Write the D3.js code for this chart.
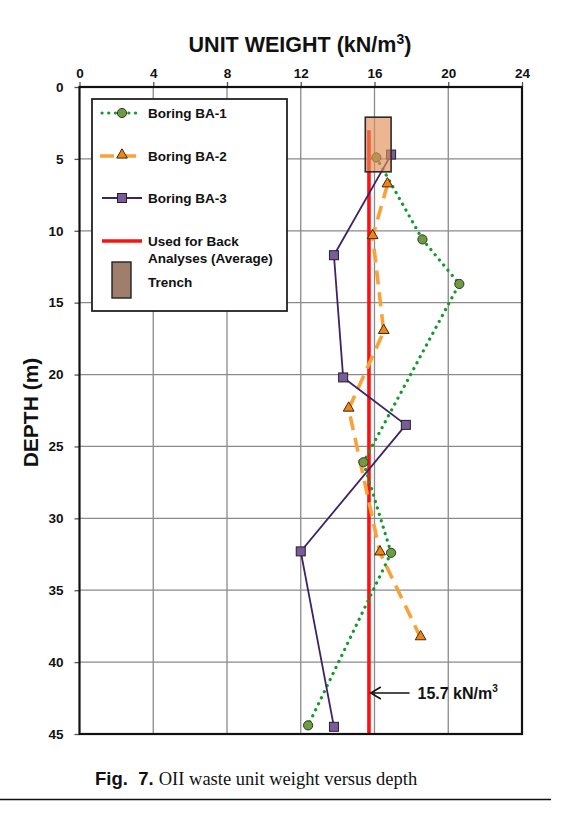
<!DOCTYPE html>
<html>
<head>
<meta charset="utf-8">
<script src="https://cdn.jsdelivr.net/npm/d3@7"></script>
<style>
  html, body { margin: 0; padding: 0; background: #fff; }
  svg { display: block; }
</style>
</head>
<body>
<div id="chart"></div>
<script>
// Values
const xTicks = [0, 4, 8, 12, 16, 20, 24];
const yTicks = [0, 5, 10, 15, 20, 25, 30, 35, 40, 45];

const ba1Weight = [16.1, 18.6, 20.6, 15.4, 16.9, 12.4];
const ba1Depth  = [4.9, 10.6, 13.7, 26.1, 32.4, 44.4];

const ba2Weight = [16.7, 15.9, 16.5, 14.6, 16.3, 18.5];
const ba2Depth  = [6.8, 10.4, 17.0, 22.4, 32.4, 38.3];

const ba3Weight = [16.9, 13.8, 14.3, 17.7, 12.0, 13.8];
const ba3Depth  = [4.7, 11.7, 20.2, 23.5, 32.3, 44.5];

const averageWeight = [15.7, 15.7];
const averageDepth  = [3.0, 45];

const trenchWeight = [15.5, 16.9];
const trenchDepth  = [2.1, 5.9];

const width = 567, height = 817;
const x = d3.scaleLinear().domain([0, 24]).range([79.5, 522]);
const y = d3.scaleLinear().domain([0, 45]).range([87, 734]);

const svg = d3.select("#chart").append("svg")
    .attr("width", width)
    .attr("height", height)
    .attr("font-family", "Liberation Sans, Arial, sans-serif");

// grid
svg.append("g")
  .selectAll("line")
  .data(xTicks.slice(1, -1))
  .join("line")
    .attr("x1", d => x(d)).attr("x2", d => x(d))
    .attr("y1", y(0)).attr("y2", y(45))
    .attr("stroke", "#8a8a8a").attr("stroke-width", 1.3);

svg.append("g")
  .selectAll("line")
  .data(yTicks.slice(1, -1))
  .join("line")
    .attr("x1", x(0)).attr("x2", x(24))
    .attr("y1", d => y(d)).attr("y2", d => y(d))
    .attr("stroke", "#8a8a8a").attr("stroke-width", 1.3);

// axes (top and left)
const xAxis = d3.axisTop(x).tickValues(xTicks).tickSize(5).tickPadding(4);
const yAxis = d3.axisLeft(y).tickValues(yTicks).tickSize(5).tickPadding(11);

svg.append("g")
    .attr("transform", `translate(0,${y(0)})`)
    .call(xAxis)
    .call(g => g.select(".domain").remove())
    .call(g => g.selectAll("line").attr("stroke", "#555").attr("stroke-width", 1.3))
    .call(g => g.selectAll("text").attr("font-size", 13.5).attr("font-weight", "bold").attr("fill", "#111"));

svg.append("g")
    .attr("transform", `translate(${x(0)},0)`)
    .call(yAxis)
    .call(g => g.select(".domain").remove())
    .call(g => g.selectAll("line").attr("stroke", "#555").attr("stroke-width", 1.3))
    .call(g => g.selectAll("text").attr("font-size", 13.5).attr("font-weight", "bold").attr("fill", "#111"));

// average line
svg.append("line")
    .attr("x1", x(averageWeight[0])).attr("x2", x(averageWeight[1]))
    .attr("y1", y(averageDepth[0])).attr("y2", y(averageDepth[1]))
    .attr("stroke", "#ff1010").attr("stroke-width", 3.6);

const line = d3.line().x(d => x(d[0])).y(d => y(d[1]));

const ba1 = d3.zip(ba1Weight, ba1Depth);
const ba2 = d3.zip(ba2Weight, ba2Depth);
const ba3 = d3.zip(ba3Weight, ba3Depth);

// series lines
svg.append("path").datum(ba2)
    .attr("d", line).attr("fill", "none")
    .attr("stroke", "#f9a23a").attr("stroke-width", 3.6)
    .attr("stroke-dasharray", "14 8");

svg.append("path").datum(ba1)
    .attr("d", line).attr("fill", "none")
    .attr("stroke", "#139a2c").attr("stroke-width", 3.2)
    .attr("stroke-linecap", "round")
    .attr("stroke-dasharray", "0.1 6.6");

svg.append("path").datum(ba3)
    .attr("d", line).attr("fill", "none")
    .attr("stroke", "#3e2366").attr("stroke-width", 1.8);

const triangle = d3.symbol(d3.symbolTriangle, 50);
const square = 9;

// markers
svg.append("g").selectAll("path").data(ba2).join("path")
    .attr("d", triangle)
    .attr("transform", d => `translate(${x(d[0])},${y(d[1]) - 1})`)
    .attr("fill", "#f2840f").attr("stroke", "#3a2a1a").attr("stroke-width", 1);

svg.append("g").selectAll("circle").data(ba1).join("circle")
    .attr("cx", d => x(d[0])).attr("cy", d => y(d[1]))
    .attr("r", 4.6)
    .attr("fill", "#6f9c3e").attr("stroke", "#333").attr("stroke-width", 1);

svg.append("g").selectAll("rect").data(ba3).join("rect")
    .attr("x", d => x(d[0]) - square / 2).attr("y", d => y(d[1]) - square / 2)
    .attr("width", square).attr("height", square)
    .attr("fill", "#7a5c9c").attr("stroke", "#222").attr("stroke-width", 1);

// trench (translucent, over the data)
svg.append("rect")
    .attr("x", x(trenchWeight[0]))
    .attr("y", y(trenchDepth[0]))
    .attr("width", x(trenchWeight[1]) - x(trenchWeight[0]))
    .attr("height", y(trenchDepth[1]) - y(trenchDepth[0]))
    .attr("fill", "#e28f58")
    .attr("fill-opacity", 0.65)
    .attr("stroke", "#2a2a2a")
    .attr("stroke-width", 1.6);

// plot frame
svg.append("rect")
    .attr("x", x(0)).attr("y", y(0))
    .attr("width", x(24) - x(0)).attr("height", y(45) - y(0))
    .attr("fill", "none").attr("stroke", "#111").attr("stroke-width", 2.2);

// legend
const legend = svg.append("g");
legend.append("rect")
    .attr("x", 92).attr("y", 99).attr("width", 195).attr("height", 212)
    .attr("fill", "#fff").attr("stroke", "#222").attr("stroke-width", 1.8);

const lx1 = 102, lx2 = 142, lmid = 122, ltext = 148;

function legendText(ty, lines) {
  const t = legend.append("text")
      .attr("x", ltext).attr("y", ty)
      .attr("font-size", 13.5).attr("font-weight", "bold").attr("fill", "#111");
  lines.forEach((s, i) => t.append("tspan").attr("x", ltext).attr("dy", i ? 17 : 0).text(s));
}

// BA-1
legend.append("line").attr("x1", lx1).attr("x2", lx2).attr("y1", 113).attr("y2", 113)
    .attr("stroke", "#139a2c").attr("stroke-width", 3.2)
    .attr("stroke-linecap", "round").attr("stroke-dasharray", "0.1 6.6");
legend.append("circle").attr("cx", lmid).attr("cy", 113).attr("r", 4.6)
    .attr("fill", "#6f9c3e").attr("stroke", "#333").attr("stroke-width", 1);
legendText(118, ["Boring BA-1"]);

// BA-2
legend.append("line").attr("x1", lx1 - 2).attr("x2", lx2 + 2).attr("y1", 156).attr("y2", 156)
    .attr("stroke", "#f9a23a").attr("stroke-width", 3.6).attr("stroke-dasharray", "14 8");
legend.append("path").attr("d", triangle)
    .attr("transform", `translate(${lmid},${155})`)
    .attr("fill", "#f2840f").attr("stroke", "#3a2a1a").attr("stroke-width", 1);
legendText(161, ["Boring BA-2"]);

// BA-3
legend.append("line").attr("x1", lx1).attr("x2", lx2).attr("y1", 198).attr("y2", 198)
    .attr("stroke", "#3e2366").attr("stroke-width", 1.8);
legend.append("rect").attr("x", lmid - square / 2).attr("y", 198 - square / 2)
    .attr("width", square).attr("height", square)
    .attr("fill", "#7a5c9c").attr("stroke", "#222").attr("stroke-width", 1);
legendText(203, ["Boring BA-3"]);

// Average
legend.append("line").attr("x1", lx1).attr("x2", lx2).attr("y1", 241).attr("y2", 241)
    .attr("stroke", "#ff1010").attr("stroke-width", 3.6);
legendText(246, ["Used for Back", "Analyses (Average)"]);

// Trench
legend.append("rect").attr("x", 112).attr("y", 262).attr("width", 19).attr("height", 36)
    .attr("fill", "#a07e6c").attr("stroke", "#222").attr("stroke-width", 1.4);
legendText(287, ["Trench"]);

// annotation
const annY = 693;
svg.append("line")
    .attr("x1", x(15.8)).attr("x2", x(17.9))
    .attr("y1", annY).attr("y2", annY)
    .attr("stroke", "#111").attr("stroke-width", 1.4);
svg.append("path")
    .attr("d", `M${x(15.8) + 10},${annY - 6} L${x(15.8)},${annY} L${x(15.8) + 10},${annY + 6}`)
    .attr("fill", "none").attr("stroke", "#111").attr("stroke-width", 1.6);
const ann = svg.append("text")
    .attr("x", x(17.9) + 8).attr("y", annY + 6)
    .attr("font-size", 16).attr("font-weight", "bold").attr("fill", "#111");
ann.append("tspan").text("15.7 kN/m");
ann.append("tspan").attr("font-size", 10).attr("dy", -7).text("3");

// axis titles
const xt = svg.append("text")
    .attr("x", 300).attr("y", 52)
    .attr("text-anchor", "middle")
    .attr("font-size", 21.5).attr("font-weight", "bold").attr("fill", "#111");
xt.append("tspan").text("UNIT WEIGHT (kN/m");
xt.append("tspan").attr("font-size", 14).attr("dy", -8).text("3");
xt.append("tspan").attr("dy", 8).text(")");

svg.append("text")
    .attr("transform", `translate(38,${412.5}) rotate(-90)`)
    .attr("text-anchor", "middle")
    .attr("font-size", 21).attr("font-weight", "bold").attr("fill", "#111")
    .text("DEPTH (m)");

// caption
const cap = svg.append("text")
    .attr("x", 95).attr("y", 785)
    .attr("font-size", 18.5).attr("fill", "#111");
cap.append("tspan").attr("font-weight", "bold")
    .attr("font-family", "Liberation Sans, Arial, sans-serif").attr("xml:space", "preserve").text("Fig.\u00a0 7. ");
cap.append("tspan").attr("font-family", "Liberation Serif, Times New Roman, serif")
    .text("OII waste unit weight versus depth");

svg.append("line")
    .attr("x1", 0).attr("x2", 551).attr("y1", 799.5).attr("y2", 799.5)
    .attr("stroke", "#111").attr("stroke-width", 1.6);
</script>
</body>
</html>
